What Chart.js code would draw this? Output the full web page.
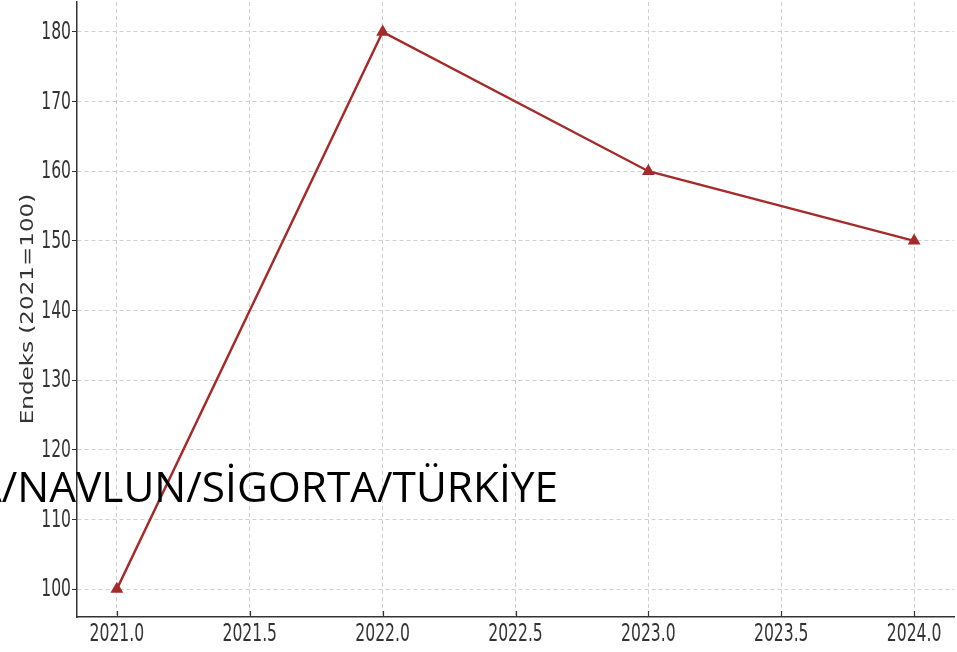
<!DOCTYPE html>
<html>
<head>
<meta charset="utf-8">
<script src="https://cdn.jsdelivr.net/npm/chart.js@4/dist/chart.umd.min.js"></script>
<style>
  html, body { margin: 0; padding: 0; background: #fff; }
  #wrap { position: relative; width: 957px; height: 652px; overflow: hidden; }
  #overlay {
    position: absolute; left: -25px; top: 465px;
    font-family: "Open Sans", sans-serif; font-size: 42.4px; line-height: 42px;
    color: #000; white-space: nowrap;
  }
</style>
</head>
<body>
<div id="wrap">
  <canvas id="chart" width="957" height="652"></canvas>
  <div id="overlay">A/NAVLUN/SİGORTA/TÜRKİYE</div>
</div>
<script>
/* values */
var years = [2021, 2022, 2023, 2024];
var indexValues = [100, 180, 160, 150];
var xTicks = [2021.0, 2021.5, 2022.0, 2022.5, 2023.0, 2023.5, 2024.0];
var yTicks = [100, 110, 120, 130, 140, 150, 160, 170, 180];
var yTitle = 'Endeks (2021=100)';

var lineColor = '#a52a2a';
var textColor = '#333';

/* draw a narrow (squeezed) label, the original picture is stretched */
function narrowText(ctx, text, x, y, align, squeeze) {
  ctx.save();
  ctx.translate(x, y);
  ctx.scale(squeeze, 1);
  ctx.textAlign = align;
  ctx.fillText(text, 0, 0);
  ctx.restore();
}

/* tick labels + inward x ticks, placed with the chart's own scales */
var tickLabels = {
  id: 'tickLabels',
  afterDraw: function (chart) {
    var ctx = chart.ctx;
    var xs = chart.scales.x;
    var ys = chart.scales.y;
    var area = chart.chartArea;
    ctx.save();
    ctx.strokeStyle = textColor;
    ctx.lineWidth = 1.2;
    xTicks.forEach(function (v) {
      var px = Math.round(xs.getPixelForValue(v)) + 0.5;
      ctx.beginPath();
      ctx.moveTo(px, area.bottom);
      ctx.lineTo(px, area.bottom - 6);
      ctx.stroke();
    });
    ctx.fillStyle = textColor;
    ctx.font = '24px "DejaVu Sans"';
    ctx.textBaseline = 'middle';
    xTicks.forEach(function (v) {
      narrowText(ctx, v.toFixed(1), xs.getPixelForValue(v), area.bottom + 18, 'center', 0.65);
    });
    yTicks.forEach(function (v) {
      narrowText(ctx, String(v), area.left - 6, ys.getPixelForValue(v) + 1, 'right', 0.65);
    });
    ctx.restore();
  }
};

/* stretched rotated y title */
var yTitlePlugin = {
  id: 'yTitle',
  afterDraw: function (chart) {
    var ctx = chart.ctx;
    ctx.save();
    ctx.translate(33, 309);
    ctx.rotate(-Math.PI / 2);
    ctx.scale(1.28, 1);
    ctx.font = '18px "DejaVu Sans"';
    ctx.fillStyle = textColor;
    ctx.textAlign = 'center';
    ctx.textBaseline = 'alphabetic';
    ctx.fillText(yTitle, 0, 0);
    ctx.restore();
  }
};

function createIndexChart(canvasid) {
  var ctx = document.getElementById(canvasid).getContext('2d');
  return new Chart(ctx, {
    type: 'line',
    data: {
      datasets: [{
        label: yTitle,
        data: years.map(function (y, i) { return { x: y, y: indexValues[i] }; }),
        borderColor: lineColor,
        backgroundColor: lineColor,
        borderWidth: 2.4,
        pointStyle: 'triangle',
        pointRadius: 5,
        pointHoverRadius: 5,
        tension: 0
      }]
    },
    options: {
      responsive: false,
      animation: false,
      layout: { autoPadding: false, padding: { top: 2, right: 3, left: 0, bottom: 0 } },
      plugins: { legend: { display: false }, tooltip: { enabled: false } },
      scales: {
        x: {
          type: 'linear',
          min: 2020.85,
          max: 2024.15,
          afterBuildTicks: function (axis) {
            axis.ticks = xTicks.map(function (v) { return { value: v }; });
          },
          afterFit: function (axis) {
            axis.height = 35;
            axis.paddingLeft = 0;
            axis.paddingRight = 0;
          },
          ticks: { display: false, autoSkip: false },
          grid: { color: '#cfcfcf', lineWidth: 1, drawTicks: false },
          border: { display: true, color: textColor, width: 1.5, dash: [4, 3] }
        },
        y: {
          min: 96,
          max: 184.3,
          afterBuildTicks: function (axis) {
            axis.ticks = yTicks.map(function (v) { return { value: v }; });
          },
          afterFit: function (axis) {
            axis.width = 77;
            axis.paddingTop = 0;
            axis.paddingBottom = 0;
          },
          ticks: { display: false, autoSkip: false },
          grid: {
            color: '#cfcfcf',
            lineWidth: 1,
            drawTicks: true,
            tickLength: 5,
            tickColor: textColor,
            tickBorderDash: []
          },
          border: { display: true, color: textColor, width: 1.5, dash: [4, 3] }
        }
      }
    },
    plugins: [tickLabels, yTitlePlugin]
  });
}

createIndexChart('chart');
</script>
</body>
</html>
